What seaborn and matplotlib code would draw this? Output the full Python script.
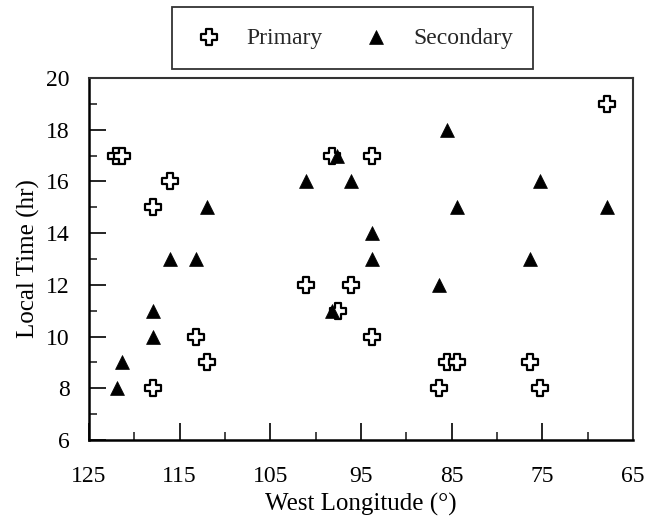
import matplotlib
matplotlib.use("Agg")
import matplotlib.pyplot as plt
import seaborn as sns
import pandas as pd
from matplotlib.ticker import MultipleLocator

# Data
primary_lon = [122.0, 121.4, 116.1, 117.9, 98.2, 93.8, 67.9, 101.1, 96.1, 97.5,
               113.2, 93.8, 112.0, 117.9, 85.5, 84.4, 76.4, 86.4, 75.3]
primary_time = [17, 17, 16, 15, 17, 17, 19, 12, 12, 11,
                10, 10, 9, 8, 9, 9, 9, 8, 8]
secondary_lon = [97.6, 101.1, 96.1, 112.0, 93.8, 116.1, 113.2, 93.8, 117.9, 117.9,
                 121.4, 121.9, 98.2, 85.5, 75.3, 84.4, 67.9, 76.4, 86.4]
secondary_time = [17, 16, 16, 15, 14, 13, 13, 13, 11, 10,
                  9, 8, 11, 18, 16, 15, 15, 13, 12]
x_ticks = [125, 115, 105, 95, 85, 75, 65]
y_ticks = [6, 8, 10, 12, 14, 16, 18, 20]

sns.set_theme(style="ticks")
plt.rcParams["font.family"] = ["Liberation Serif", "DejaVu Serif"]
FS = 17
plt.rcParams["font.size"] = FS

W, H = 660, 519
fig = plt.figure(figsize=(W / 100, H / 100), dpi=100)
ax = fig.add_axes([89 / W, 1 - 440 / H, (633 - 89) / W, (440 - 78) / H])

df_p = pd.DataFrame({"lon": primary_lon, "time": primary_time})
df_s = pd.DataFrame({"lon": secondary_lon, "time": secondary_time})

sns.scatterplot(data=df_p, x="lon", y="time", ax=ax, marker="P", s=125,
                facecolor="white", edgecolor="black", linewidth=1.6,
                label="Primary", zorder=3)
sns.scatterplot(data=df_s, x="lon", y="time", ax=ax, marker="^", s=100,
                color="black", edgecolor="black", linewidth=0.5,
                label="Secondary", zorder=3)

ax.set_xlim(125, 65)
ax.set_ylim(6, 20)
ax.set_xticks(x_ticks)
ax.set_yticks(y_ticks)
ax.xaxis.set_minor_locator(MultipleLocator(5))
ax.yaxis.set_minor_locator(MultipleLocator(1))
ax.tick_params(which="major", direction="in", length=12, width=1.2,
               labelsize=FS, color="black", labelcolor="black",
               top=False, right=False)
ax.tick_params(which="minor", direction="in", length=6, width=1.2,
               top=False, right=False)
ax.tick_params(axis="x", which="major", pad=19)
ax.tick_params(axis="y", which="major", pad=14)

for side in ["left", "bottom"]:
    ax.spines[side].set_linewidth(1.8)
    ax.spines[side].set_color("black")
for side in ["top", "right"]:
    ax.spines[side].set_visible(True)
    ax.spines[side].set_linewidth(1.5)
    ax.spines[side].set_color("#333333")

ax.set_xlabel("West Longitude (°)", fontsize=18, labelpad=4, color="black")
ax.set_ylabel("Local Time (hr)", fontsize=18, labelpad=4, color="black")

if ax.legend_:
    ax.legend_.remove()
handles, labels = ax.get_legend_handles_labels()
leg = fig.legend(handles, labels, loc="upper left",
                 bbox_to_anchor=(172 / W, 1 - 7 / H), ncol=2, frameon=True,
                 fancybox=False, edgecolor="black", fontsize=FS,
                 borderpad=0.85, handlelength=1.44, handletextpad=0.85,
                 columnspacing=1.57, borderaxespad=0)
leg.get_frame().set_linewidth(1.3)

fig.savefig("out.png", dpi=100, facecolor="white")
